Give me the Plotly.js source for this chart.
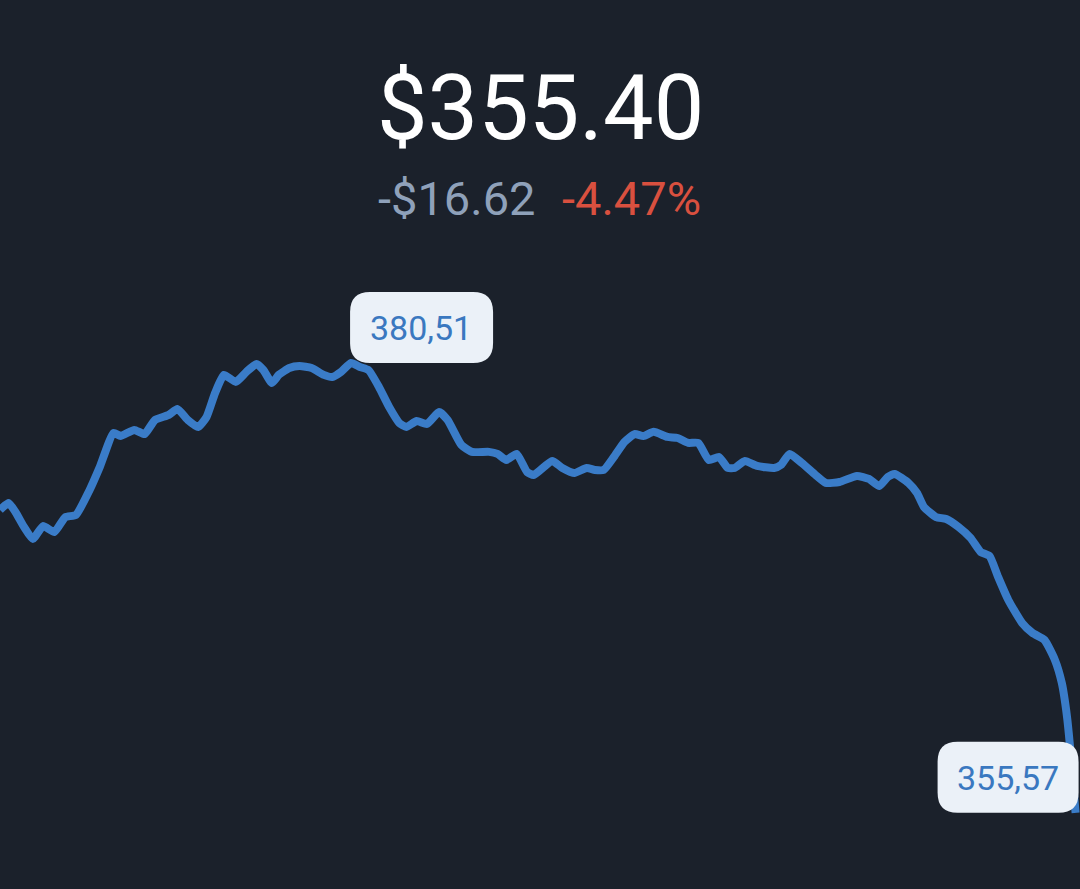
<!DOCTYPE html>
<html>
<head>
<meta charset="utf-8">
<script src="https://cdn.plot.ly/plotly-3.0.1.min.js"></script>
<style>
  html, body { margin: 0; padding: 0; background: #1b212b; }
  #chart { width: 1080px; height: 889px; }
</style>
</head>
<body>
<div id="chart"></div>
<script>
// minutes since open
var minutes = [0, 3.1, 5.6, 8.7, 11.9, 15.6, 19.7, 23.7, 27.5, 32.5, 36.2, 41.2, 43.7, 48.7, 52.4,
  56.2, 61.2, 64.3, 68.1, 71.8, 74.9, 78.0, 81.2, 85.5, 89.3, 93.0, 95.5, 98.6, 101.1, 104.9,
  108.6, 113.0, 117.4, 120.5, 123.6, 127.3, 130.5, 133.6, 137.4, 141.1, 144.8, 147.3, 151.1,
  154.8, 159.2, 162.3, 167.3, 171.1, 177.3, 180.4, 183.6, 187.3, 191.1, 193.5, 200.2, 203.9,
  208.3, 212.7, 215.7, 218.9, 222.6, 226.4, 230.1, 233.3, 237.0, 242.0, 245.7, 249.5, 253.2,
  257.0, 260.7, 263.9, 266.4, 270.1, 274.5, 280.7, 283.2, 286.3, 290.7, 295.7, 299.4, 304.4,
  310.7, 315.1, 318.8, 321.9, 324.4, 329.4, 332.5, 335.0, 339.4, 343.1, 347.5, 351.9, 355.6,
  358.8, 361.9, 365.6, 370.6, 374.4, 378.7, 382.5, 385.0, 386.9, 388.1, 390.0];

var prices = [372.36, 372.75, 372.25, 371.42, 370.75, 371.47, 371.14, 371.97, 372.08, 373.47,
  374.75, 376.63, 376.46, 376.80, 376.57, 377.35, 377.63, 377.96, 377.35, 376.96, 377.52,
  378.85, 379.85, 379.46, 380.01, 380.45, 380.12, 379.40, 379.85, 380.23, 380.34, 380.23,
  379.85, 379.73, 380.01, 380.51, 380.29, 380.12, 379.18, 378.07, 377.18, 376.96, 377.29,
  377.13, 377.79, 377.35, 375.96, 375.58, 375.58, 375.47, 375.13, 375.47, 374.47, 374.30,
  375.08, 374.69, 374.41, 374.69, 374.58, 374.58, 375.30, 376.13, 376.57, 376.46, 376.69,
  376.41, 376.35, 376.08, 376.08, 375.13, 375.30, 374.69, 374.69, 375.08, 374.80, 374.69,
  374.86, 375.47, 374.97, 374.30, 373.86, 373.91, 374.25, 374.08, 373.69, 374.19, 374.36,
  373.86, 373.30, 372.53, 371.97, 371.86, 371.42, 370.81, 370.03, 369.81, 368.65, 367.37,
  366.10, 365.54, 365.16, 364.05, 362.77, 360.89, 359.06, 355.57];

var priceText = '$355.40';
var changeText = '-$16.62';
var pctText = '-4.47%';

var lineColor = '#3a7cc8';
var bg = '#1b212b';

// peak and last point labels
var iMax = prices.indexOf(Math.max.apply(null, prices));
var iLast = prices.length - 1;
function fmt(v) { return v.toFixed(2).replace('.', ','); }

function roundRect(x0, x1, y0, y1, r) {
  return 'M' + (x0 + r) + ',' + y0 + ' L' + (x1 - r) + ',' + y0 +
    ' Q' + x1 + ',' + y0 + ' ' + x1 + ',' + (y0 + r) +
    ' L' + x1 + ',' + (y1 - r) + ' Q' + x1 + ',' + y1 + ' ' + (x1 - r) + ',' + y1 +
    ' L' + (x0 + r) + ',' + y1 + ' Q' + x0 + ',' + y1 + ' ' + x0 + ',' + (y1 - r) +
    ' L' + x0 + ',' + (y0 + r) + ' Q' + x0 + ',' + y0 + ' ' + (x0 + r) + ',' + y0 + ' Z';
}

var trace = {
  x: minutes,
  y: prices,
  type: 'scatter',
  mode: 'lines',
  line: { color: lineColor, width: 8, shape: 'spline', smoothing: 0.5 },
  hoverinfo: 'skip'
};

var layout = {
  width: 1080,
  height: 889,
  margin: { l: 0, r: 0, t: 0, b: 0 },
  paper_bgcolor: bg,
  plot_bgcolor: bg,
  showlegend: false,
  font: { family: 'Roboto, sans-serif' },
  xaxis: { visible: false, range: [0, 391.6], fixedrange: true },
  yaxis: { visible: false, range: [351.35, 400.63], fixedrange: true },
  shapes: [
    {
      type: 'path', layer: 'above',
      xsizemode: 'pixel', ysizemode: 'pixel',
      xanchor: minutes[iMax], yanchor: prices[iMax],
      path: roundRect(-1, 142, 0, 71, 20),
      fillcolor: '#ebf1f8', line: { width: 0 }
    },
    {
      type: 'path', layer: 'above',
      xsizemode: 'pixel', ysizemode: 'pixel',
      xanchor: minutes[iLast], yanchor: prices[iLast],
      path: roundRect(-138, 3, 0, 71, 20),
      fillcolor: '#ebf1f8', line: { width: 0 }
    }
  ],
  annotations: [
    {
      xref: 'paper', yref: 'paper', x: 0.5, y: 1 - 108 / 889,
      xanchor: 'center', yanchor: 'middle', showarrow: false,
      text: priceText,
      font: { size: 90, color: '#ffffff', family: 'Roboto, sans-serif' }
    },
    {
      xref: 'paper', yref: 'paper', x: 537 / 1080, y: 1 - 199 / 889,
      xanchor: 'right', yanchor: 'middle', showarrow: false,
      text: changeText,
      font: { size: 47, color: '#8fa1ba', family: 'Roboto, sans-serif' }
    },
    {
      xref: 'paper', yref: 'paper', x: 560 / 1080, y: 1 - 199 / 889,
      xanchor: 'left', yanchor: 'middle', showarrow: false,
      text: pctText,
      font: { size: 47, color: '#d9503f', family: 'Roboto, sans-serif' }
    },
    {
      x: minutes[iMax], y: prices[iMax], showarrow: false,
      xanchor: 'center', yanchor: 'middle', xshift: 70, yshift: 35,
      text: fmt(prices[iMax]),
      font: { size: 34, color: '#3a78c0', family: 'Roboto, sans-serif' }
    },
    {
      x: minutes[iLast], y: prices[iLast], showarrow: false,
      xanchor: 'center', yanchor: 'middle', xshift: -68, yshift: 35,
      text: fmt(prices[iLast]),
      font: { size: 34, color: '#3a78c0', family: 'Roboto, sans-serif' }
    }
  ]
};

Plotly.newPlot('chart', [trace], layout, { displayModeBar: false, staticPlot: true });
</script>
</body>
</html>
